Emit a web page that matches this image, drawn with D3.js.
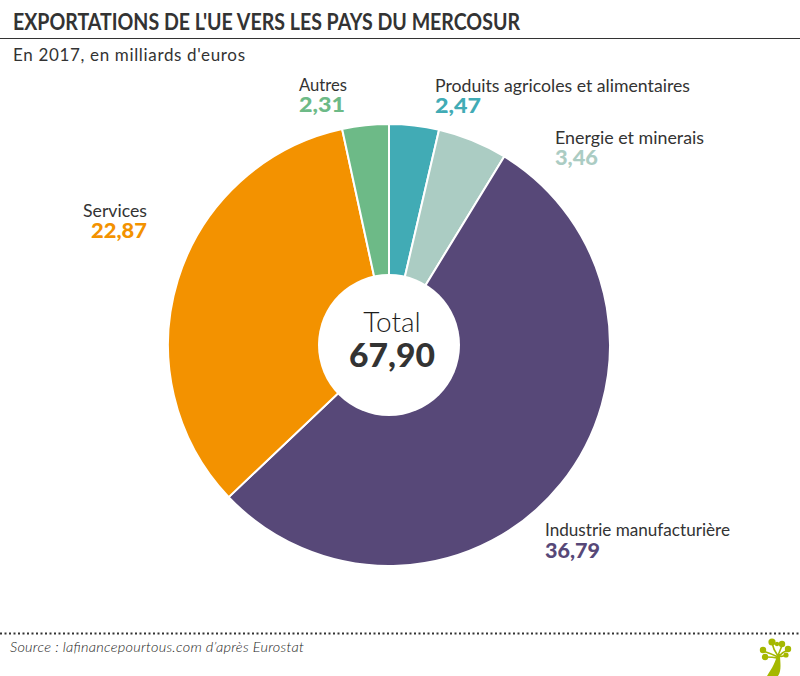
<!DOCTYPE html>
<html><head><meta charset="utf-8">
<script src="https://cdn.jsdelivr.net/npm/d3@7"></script>
<style>html,body{margin:0;padding:0;background:#fff}svg{display:block}text{font-family:Lato,sans-serif;fill:#333}</style>
</head><body><svg id="c" width="800" height="676"></svg>
<script>
const categories=["Produits agricoles et alimentaires","Energie et minerais","Industrie manufacturière","Services","Autres"];
const values=[2.47,3.46,36.79,22.87,2.31];
const valueLabels=["2,47","3,46","36,79","22,87","2,31"];
const colors=["#41abb5","#abccc3","#574878","#f39200","#6dba87"];
const nameX=[435,555,545,83,299];
const nameW=[255,149,185,64,48];
const nameY=[92,144,536,217,91];
const valueX=[435,555,545,91,299];
const valueW=[46,43,55,56,46];
const valueY=[113,165,558,238,112];
const svg=d3.select("#c");
const cx=389,cy=345,R=221,r=71;
const pie=d3.pie().sort(null).value(d=>d)(values);
const arc=d3.arc().innerRadius(0).outerRadius(R);
const g=svg.append("g").attr("transform",`translate(${cx},${cy})`);
g.selectAll("path").data(pie).join("path").attr("d",arc).attr("fill",(d,i)=>colors[i]).attr("stroke","#fff").attr("stroke-width",2);
g.append("circle").attr("r",r).attr("fill","#fff");
g.append("text").attr("x",3).attr("text-anchor","middle").attr("y",-13).attr("font-size",28).attr("font-weight",300).style("fill","#1d1d1b").text("Total");
g.append("text").attr("x",3).attr("text-anchor","middle").attr("y",22).attr("font-size",33).attr("font-weight",900).attr("textLength",86).attr("lengthAdjust","spacingAndGlyphs").text("67,90");
// header
svg.append("text").attr("x",13).attr("y",30).attr("font-size",23).attr("font-weight",700).attr("textLength",507).attr("lengthAdjust","spacingAndGlyphs").text("EXPORTATIONS DE L'UE VERS LES PAYS DU MERCOSUR");
svg.append("line").attr("x1",0).attr("x2",800).attr("y1",38.5).attr("y2",38.5).attr("stroke","#333").attr("stroke-width",1);
svg.append("text").attr("x",13).attr("y",61).attr("font-size",17).attr("textLength",232).text("En 2017, en milliards d'euros");
// labels
categories.forEach((c,i)=>{
  svg.append("text").attr("x",nameX[i]).attr("y",nameY[i]).attr("font-size",17).attr("textLength",nameW[i]).attr("lengthAdjust","spacingAndGlyphs").text(c);
  svg.append("text").attr("x",valueX[i]).attr("y",valueY[i]).attr("font-size",21).attr("font-weight",900).attr("textLength",valueW[i]).attr("lengthAdjust","spacingAndGlyphs").style("fill",colors[i]).text(valueLabels[i]);
});
// footer
svg.append("line").attr("x1",0).attr("x2",800).attr("y1",633.5).attr("y2",633.5).attr("stroke","#333").attr("stroke-width",2).attr("stroke-dasharray","2 2.5");
svg.append("text").attr("x",10).attr("y",652).attr("font-size",14.5).attr("font-style","italic").attr("font-weight",300).style("fill","#1d1d1b").attr("textLength",294).text("Source : lafinancepourtous.com d’après Eurostat");
// logo
const logo=svg.append("g").attr("fill","#a5b800");
logo.append("path").attr("d","M767 676C772 668 776 662 777 654L780 654C780 662 782 670 778 676Z");
const branches=["M778 656C775 652 773 648 772 643","M778 656C779 652 781 649 782 645","M779 656C782 653 785 651 788 650","M779 656C782 657 784 656 786 655","M778 657C774 655 769 653 763 651","M777 658C773 657 770 657 766 657"];
branches.forEach(d=>logo.append("path").attr("d",d).attr("fill","none").attr("stroke","#a5b800").attr("stroke-width",1.6));
[[772,642,3.6],[782,644,3.2],[788,649,3.2],[786,655,2.6],[763,650,3.2],[765,657,3.2],[777,644,2.2]].forEach(d=>logo.append("circle").attr("cx",d[0]).attr("cy",d[1]).attr("r",d[2]));
</script></body></html>
